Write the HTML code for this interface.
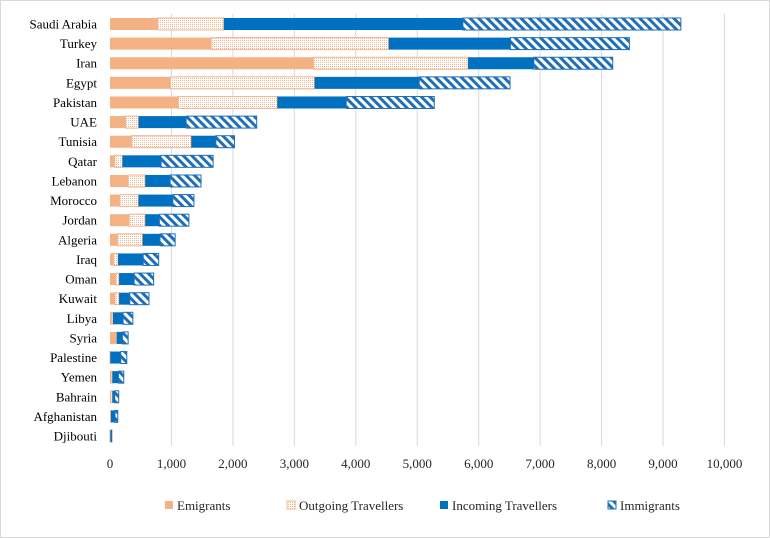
<!DOCTYPE html>
<html><head><meta charset="utf-8"><style>
html,body{margin:0;padding:0;background:#fff;}
svg{display:block;font-family:"Liberation Serif",serif;}
</style></head><body>
<svg id="chart" width="770" height="538" viewBox="0 0 770 538" xmlns="http://www.w3.org/2000/svg">
<defs>
<pattern id="dots" width="2" height="2" patternUnits="userSpaceOnUse"><rect width="2" height="2" fill="#fff"/><rect x="0" y="0" width="1" height="1" fill="#f1b48c"/></pattern>
<pattern id="stripes" width="6" height="6" patternUnits="userSpaceOnUse" patternTransform="rotate(-45)"><rect width="6" height="6" fill="#fff"/><rect width="3" height="6" fill="#1f6fb8"/></pattern>
</defs>
<rect x="0.5" y="0.5" width="769" height="537" fill="#fff" stroke="#d9d9d9"/>
<g id="grid"></g><g id="bars"></g><g id="labels"></g>
<g id="legend"></g>
</svg>
<script>
const categories=["Saudi Arabia","Turkey","Iran","Egypt","Pakistan","UAE","Tunisia","Qatar","Lebanon","Morocco","Jordan","Algeria","Iraq","Oman","Kuwait","Libya","Syria","Palestine","Yemen","Bahrain","Afghanistan","Djibouti"];
const emigrants=[774,1645,3310,981,1110,252,348,77,295,158,311,120,55,93,82,22,104,0,16,11,11,0];
const outgoing=[1078,2890,2516,2348,1613,213,975,125,279,306,263,410,76,55,66,27,6,5,22,27,5,5];
const incoming=[3890,1981,1071,1703,1122,774,400,629,404,558,229,284,410,245,174,164,92,170,99,39,66,22];
const immigrants=[3548,1936,1284,1478,1432,1148,303,847,503,344,481,246,251,317,312,159,93,98,87,65,44,2];
const xTicks=[0,1000,2000,3000,4000,5000,6000,7000,8000,9000,10000];
const xTickLabels=["0","1,000","2,000","3,000","4,000","5,000","6,000","7,000","8,000","9,000","10,000"];
const seriesNames=["Emigrants","Outgoing Travellers","Incoming Travellers","Immigrants"];
const NS="http://www.w3.org/2000/svg";
const X0=110,PX=61.45,Y0=24,STEP=19.62,BH=12;
const xs=v=>X0+v*PX/1000;
const ys=i=>Y0+i*STEP;
function mk(tag,attrs,parent){const e=document.createElementNS(NS,tag);for(const k in attrs)e.setAttribute(k,attrs[k]);parent.appendChild(e);return e;}
const grid=document.getElementById('grid'),bars=document.getElementById('bars'),labels=document.getElementById('labels'),legend=document.getElementById('legend');
const fills=[{fill:"#f4b183"},{fill:"url(#dots)",stroke:"#f1b48c"},{fill:"#0070c0"},{fill:"url(#stripes)",stroke:"#1f6fb8"}];
xTicks.forEach((t,i)=>{
  if(i>0){const g=mk('line',{x1:xs(t),x2:xs(t),y1:14,y2:446,stroke:"#d9d9d9","stroke-width":1},grid);
  
  }
  const tx=mk('text',{x:xs(t),y:468,"text-anchor":"middle","font-size":13,fill:"#262626"},labels);
  tx.textContent=xTickLabels[i];
  
  
});
const series=[emigrants,outgoing,incoming,immigrants];
categories.forEach((c,i)=>{
  const t=mk('text',{x:97,y:ys(i)+4.5,"text-anchor":"end","font-size":13,fill:"#000"},labels);
  t.textContent=c;
  
  
  let acc=0;
  series.forEach((s,k)=>{
    const v=s[i];const x=xs(acc);const w=xs(acc+v)-x;acc+=v;
    if(w<=0)return;
    const a={x:x,y:ys(i)-BH/2,width:w,height:BH,fill:fills[k].fill};
    if(fills[k].stroke){a.stroke=fills[k].stroke;a["stroke-width"]=1;}
    const r=mk('rect',a,bars);
    
    
  });
});
const legX=[165,287,440,608];
seriesNames.forEach((n,k)=>{
  const a={x:legX[k],y:501,width:8,height:8,fill:fills[k].fill};
  if(fills[k].stroke){a.stroke=fills[k].stroke;}
  const r=mk('rect',a,legend);
  
  
  const t=mk('text',{x:legX[k]+12,y:510,"font-size":13,fill:"#262626"},legend);
  t.textContent=n;
  
  
});
</script>
</body></html>
